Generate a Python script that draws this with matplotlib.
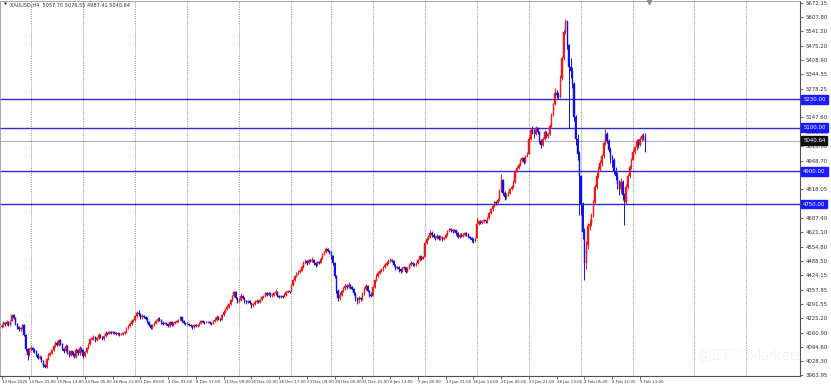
import matplotlib
matplotlib.use("Agg")
import matplotlib.pyplot as plt
from matplotlib import font_manager
import numpy as np
from matplotlib.transforms import blended_transform_factory

# ---------------- data ----------------
header_text = "XAUUSD,H4  5057.70 5076.55 4987.41 5040.64"
first_open = 4185.0

closes = [
    4192, 4205, 4198, 4210, 4195,                 # 12 Nov
    4215, 4240, 4228, 4200, 4185, 4175,           # 13 Nov
    4180, 4195, 4150, 4085, 4060, 4085,           # 14 Nov
    4090, 4080, 4075, 4060, 4045, 4050,           # 17 Nov
    4030, 4010, 4005, 4040, 4060, 4065,           # 18 Nov
    4080, 4100, 4115, 4105, 4125, 4110,           # 19 Nov
    4085, 4075, 4100, 4070, 4060, 4075,           # 20 Nov
    4060, 4050, 4080, 4065, 4090, 4080,           # 21 Nov
    4055, 4070, 4090, 4110, 4130, 4135,           # 24 Nov
    4140, 4125, 4135, 4150, 4140, 4130,           # 25 Nov
    4145, 4160, 4155, 4165, 4160, 4165,           # 26 Nov
    4160, 4155, 4158, 4150, 4155, 4157,           # 27 Nov
    4165, 4180, 4190, 4200, 4215, 4220,           # 28 Nov
    4235, 4250, 4245, 4230, 4235, 4232,           # 1 Dec
    4225, 4210, 4195, 4180, 4195, 4205,           # 2 Dec
    4215, 4225, 4220, 4205, 4200, 4205,           # 3 Dec
    4200, 4190, 4210, 4195, 4205, 4208,           # 4 Dec
    4215, 4220, 4230, 4215, 4205, 4198,           # 5 Dec
    4200, 4195, 4190, 4185, 4195, 4190,           # 8 Dec
    4195, 4205, 4215, 4210, 4208, 4208,           # 9 Dec
    4210, 4205, 4200, 4215, 4220, 4230,           # 10 Dec
    4225, 4220, 4240, 4255, 4270, 4280,           # 11 Dec
    4290, 4310, 4330, 4345, 4320, 4300,           # 12 Dec
    4310, 4330, 4320, 4305, 4300, 4305,           # 15 Dec
    4295, 4285, 4290, 4300, 4305, 4300,           # 16 Dec
    4310, 4325, 4330, 4340, 4335, 4340,           # 17 Dec
    4330, 4335, 4340, 4345, 4330, 4325,           # 18 Dec
    4330, 4325, 4335, 4345, 4350, 4345,           # 19 Dec
    4380, 4400, 4420, 4430, 4440, 4445,           # 22 Dec
    4460, 4480, 4490, 4480, 4495, 4490,           # 23 Dec
    4495, 4480, 4470, 4485, 4480,                 # 24 Dec
    4500, 4520, 4530, 4545, 4535, 4530,           # 26 Dec
    4510, 4480, 4420, 4350, 4320, 4335,           # 29 Dec
    4350, 4365, 4375, 4370, 4380, 4370,           # 30 Dec
    4360, 4340, 4320, 4310, 4320, 4315,           # 31 Dec
    4340, 4360, 4375, 4350, 4335, 4330,           # 2 Jan
    4370, 4400, 4420, 4435, 4445, 4450,           # 5 Jan
    4460, 4470, 4480, 4490, 4495, 4490,           # 6 Jan
    4470, 4455, 4460, 4450, 4445, 4455,           # 7 Jan
    4460, 4440, 4455, 4470, 4480, 4475,           # 8 Jan
    4470, 4480, 4495, 4510, 4500, 4505,           # 9 Jan
    4570, 4590, 4600, 4615, 4610, 4600,           # 12 Jan
    4595, 4605, 4590, 4600, 4590, 4595,           # 13 Jan
    4610, 4625, 4635, 4630, 4625, 4630,           # 14 Jan
    4615, 4600, 4610, 4605, 4610, 4615,           # 15 Jan
    4610, 4600, 4595, 4585, 4580, 4595,           # 16 Jan
    4660, 4670, 4665, 4670, 4675, 4670,           # 19 Jan
    4685, 4710, 4725, 4740, 4760, 4755,           # 20 Jan
    4770, 4810, 4860, 4800, 4780, 4790,           # 21 Jan
    4800, 4820, 4830, 4850, 4900, 4915,           # 22 Jan
    4930, 4950, 4960, 4945, 4970, 4980,           # 23 Jan
    5050, 5090, 5080, 5070, 5100, 5080,           # 26 Jan
    5040, 5020, 5050, 5080, 5060, 5070,           # 27 Jan
    5110, 5160, 5210, 5260, 5250, 5240,           # 28 Jan
    5330, 5420, 5540, 5590, 5480, 5380,           # 29 Jan
    5360, 5300, 5150, 5050, 4980, 4880,           # 30 Jan
    4750, 4620, 4480, 4560, 4650, 4660,           # 2 Feb
    4700, 4760, 4830, 4880, 4910, 4940,           # 3 Feb
    4970, 5030, 5070, 5040, 5000, 4960,           # 4 Feb
    4950, 4900, 4880, 4840, 4820, 4850,           # 5 Feb
    4790, 4760, 4830, 4880, 4920, 4950,           # 6 Feb
    4990, 5010, 5040, 5020, 5050, 5060,           # 9 Feb
    5057.70, 5040.64,                             # 10 Feb
]

highs = [
    4198, 4212, 4208, 4218, 4212,
    4220, 4248, 4245, 4232, 4205, 4190,
    4188, 4202, 4198, 4155, 4092, 4090,
    4098, 4095, 4088, 4080, 4068, 4058,
    4052, 4035, 4018, 4045, 4068, 4072,
    4085, 4105, 4120, 4122, 4132, 4130,
    4115, 4092, 4110, 4105, 4080, 4082,
    4078, 4068, 4088, 4085, 4098, 4095,
    4085, 4075, 4095, 4115, 4135, 4142,
    4148, 4145, 4140, 4160, 4155, 4145,
    4150, 4166, 4164, 4170, 4170, 4170,
    4168, 4165, 4162, 4160, 4160, 4162,
    4170, 4186, 4195, 4208, 4222, 4225,
    4242, 4258, 4264, 4250, 4245, 4240,
    4235, 4230, 4215, 4200, 4200, 4210,
    4220, 4232, 4230, 4225, 4212, 4210,
    4210, 4205, 4215, 4215, 4210, 4212,
    4218, 4225, 4238, 4232, 4220, 4210,
    4208, 4204, 4200, 4195, 4200, 4198,
    4198, 4210, 4220, 4218, 4214, 4212,
    4214, 4212, 4208, 4220, 4230, 4240,
    4235, 4228, 4245, 4262, 4275, 4285,
    4295, 4315, 4335, 4352, 4350, 4325,
    4318, 4340, 4335, 4325, 4310, 4310,
    4308, 4298, 4295, 4310, 4315, 4308,
    4315, 4330, 4335, 4345, 4345, 4345,
    4345, 4340, 4345, 4360, 4350, 4335,
    4335, 4335, 4340, 4350, 4358, 4352,
    4385, 4408, 4425, 4438, 4448, 4450,
    4470, 4490, 4498, 4495, 4500, 4498,
    4505, 4498, 4485, 4490, 4490,
    4505, 4525, 4535, 4552, 4550, 4540,
    4535, 4515, 4485, 4425, 4360, 4345,
    4355, 4370, 4382, 4385, 4392, 4385,
    4375, 4365, 4345, 4325, 4330, 4325,
    4345, 4368, 4385, 4380, 4355, 4345,
    4375, 4405, 4428, 4442, 4450, 4455,
    4465, 4478, 4488, 4498, 4502, 4498,
    4495, 4475, 4468, 4465, 4458, 4460,
    4465, 4462, 4460, 4475, 4488, 4485,
    4480, 4485, 4500, 4515, 4512, 4510,
    4580, 4598, 4608, 4630, 4625, 4615,
    4605, 4612, 4608, 4610, 4605, 4600,
    4615, 4630, 4642, 4640, 4635, 4635,
    4632, 4620, 4615, 4615, 4618, 4620,
    4620, 4615, 4605, 4600, 4592, 4600,
    4690, 4675, 4675, 4678, 4680, 4678,
    4690, 4715, 4730, 4748, 4765, 4765,
    4778, 4820, 4888, 4865, 4810, 4800,
    4808, 4825, 4838, 4858, 4905, 4925,
    4938, 4958, 4965, 4965, 4975, 4990,
    5060, 5100, 5110, 5095, 5110, 5105,
    5085, 5050, 5058, 5088, 5085, 5078,
    5115, 5168, 5215, 5280, 5275, 5262,
    5340, 5430, 5550, 5598, 5590, 5485,
    5420, 5380, 5310, 5160, 5070, 4995,
    4820, 4760, 4640, 4580, 4665, 4680,
    4710, 4770, 4840, 4895, 4925, 4950,
    4980, 5040, 5092, 5080, 5050, 5010,
    4975, 4960, 4920, 4895, 4860, 4870,
    4860, 4800, 4840, 4890, 4930, 4960,
    4998, 5018, 5050, 5048, 5058, 5070,
    5075, 5076.55,
]

lows = [
    4180, 4188, 4192, 4195, 4190,
    4192, 4212, 4222, 4195, 4178, 4168,
    4168, 4175, 4145, 4075, 4035, 4055,
    4078, 4072, 4068, 4052, 4040, 4040,
    4025, 4002, 3998, 4000, 4035, 4055,
    4062, 4075, 4095, 4098, 4100, 4105,
    4080, 4068, 4072, 4062, 4050, 4055,
    4052, 4042, 4045, 4058, 4060, 4072,
    4042, 4050, 4065, 4085, 4105, 4125,
    4128, 4118, 4120, 4130, 4135, 4125,
    4128, 4140, 4150, 4152, 4155, 4155,
    4155, 4150, 4150, 4145, 4148, 4150,
    4152, 4160, 4175, 4185, 4195, 4210,
    4215, 4230, 4238, 4225, 4225, 4228,
    4220, 4205, 4190, 4175, 4176, 4190,
    4200, 4210, 4212, 4200, 4195, 4198,
    4195, 4185, 4188, 4190, 4192, 4200,
    4205, 4210, 4218, 4210, 4198, 4195,
    4195, 4190, 4185, 4178, 4182, 4185,
    4186, 4192, 4200, 4205, 4202, 4204,
    4204, 4200, 4195, 4198, 4210, 4215,
    4220, 4212, 4218, 4238, 4250, 4265,
    4275, 4285, 4305, 4325, 4315, 4295,
    4300, 4305, 4315, 4298, 4292, 4298,
    4290, 4275, 4280, 4285, 4295, 4296,
    4298, 4308, 4320, 4325, 4330, 4332,
    4325, 4325, 4330, 4335, 4325, 4318,
    4320, 4318, 4322, 4330, 4340, 4340,
    4345, 4375, 4395, 4415, 4425, 4435,
    4442, 4455, 4475, 4470, 4475, 4485,
    4485, 4472, 4460, 4465, 4475,
    4478, 4498, 4515, 4525, 4528, 4522,
    4500, 4470, 4410, 4340, 4305, 4312,
    4330, 4345, 4358, 4360, 4365, 4362,
    4355, 4335, 4305, 4290, 4298, 4305,
    4312, 4335, 4355, 4345, 4325, 4322,
    4335, 4365, 4395, 4415, 4430, 4438,
    4445, 4455, 4465, 4475, 4485, 4482,
    4465, 4448, 4450, 4440, 4432, 4440,
    4450, 4432, 4438, 4450, 4465, 4468,
    4465, 4465, 4475, 4490, 4495, 4496,
    4510, 4565, 4585, 4595, 4600, 4595,
    4585, 4590, 4585, 4585, 4580, 4585,
    4592, 4605, 4620, 4622, 4615, 4620,
    4610, 4592, 4595, 4598, 4600, 4605,
    4605, 4595, 4590, 4578, 4570, 4575,
    4640, 4655, 4658, 4660, 4665, 4665,
    4665, 4682, 4705, 4720, 4735, 4745,
    4750, 4765, 4805, 4790, 4770, 4772,
    4785, 4795, 4815, 4825, 4845, 4895,
    4910, 4925, 4945, 4935, 4940, 4965,
    4985, 5045, 5070, 5055, 5065, 5070,
    5030, 5005, 5015, 5045, 5055, 5055,
    5065, 5105, 5155, 5205, 5235, 5230,
    5235, 5320, 5410, 5530, 5460, 5100,
    5330, 5280, 5130, 5020, 4950, 4700,
    4700, 4590, 4400, 4450, 4545, 4630,
    4650, 4690, 4750, 4820, 4870, 4900,
    4925, 4960, 5020, 5030, 4990, 4940,
    4920, 4890, 4860, 4820, 4790, 4800,
    4770, 4655, 4750, 4820, 4870, 4910,
    4955, 4980, 5000, 5005, 5015, 5040,
    5045, 4987.41,
]

time_labels = ["12 Nov 2025", "14 Nov 21:00", "19 Nov 13:00", "24 Nov 05:00",
               "26 Nov 21:00", "1 Dec 09:00", "4 Dec 01:00", "8 Dec 17:00",
               "11 Dec 09:00", "16 Dec 01:00", "18 Dec 17:00", "23 Dec 09:00",
               "29 Dec 05:00", "31 Dec 21:00", "6 Jan 13:00", "9 Jan 05:00",
               "13 Jan 21:00", "16 Jan 13:00", "21 Jan 05:00", "23 Jan 21:00",
               "28 Jan 13:00", "2 Feb 05:00", "4 Feb 21:00", "9 Feb 13:00"]
bars_per_label = 16
week_start_bars = [17, 47, 77, 107, 137, 167, 190, 214, 244, 274, 304, 334, 364, 399, 429]

price_tick_labels = ["5672.15", "5607.80", "5541.50", "5475.20", "5408.90", "5344.55",
                     "5278.25", "5211.95", "5147.60", "5081.30", "5015.00", "4948.70",
                     "4883.35", "4818.05", "4687.40", "4621.10", "4554.80", "4488.50",
                     "4424.15", "4357.85", "4291.55", "4225.20", "4160.90", "4094.60",
                     "4028.30", "3963.95"]

level_lines = [5230.00, 5100.00, 4900.00, 4750.00]
level_labels = ["5230.00", "5100.00", "4900.00", "4750.00"]
last_price = 5040.64
last_label = "5040.64"

# ---------------- style ----------------
BULL = "#f01818"
BEAR = "#1010e8"
LEVEL = "#2b2bd6"
W, H = 831, 384
bar_px, x0_px = 1.735, 1.5
plot_right_px, plot_top_px, plot_bottom_px = 800, 1, 376

# narrow font for the small axis labels if available
available = {f.name for f in font_manager.fontManager.ttflist}
if "Liberation Sans Narrow" in available:
    small_family, xsize = ["Liberation Sans Narrow", "DejaVu Sans"], 3.8
else:
    small_family, xsize = ["DejaVu Sans"], 2.9

fig = plt.figure(figsize=(W / 100, H / 100), dpi=100)
fig.patch.set_facecolor("white")
ax = fig.add_axes([0, (H - plot_bottom_px) / H, plot_right_px / W,
                   (plot_bottom_px - plot_top_px) / H])
ax.set_facecolor("white")

n = len(closes)
idx = np.arange(n)
c = np.array(closes, float)
o = np.concatenate([[first_open], c[:-1]])
hi = np.maximum(np.array(highs, float), np.maximum(o, c))
lo = np.minimum(np.array(lows, float), np.minimum(o, c))
up = c >= o
cols = np.where(up, BULL, BEAR)

ax.set_xlim(-x0_px / bar_px, (plot_right_px - x0_px) / bar_px)
ax.set_ylim(3961.5, 5681.0)

# weekly dotted grid
for wb in week_start_bars:
    ax.axvline(wb, color="#7a7a7a", lw=0.6, ls=(0, (1.2, 1.6)), zorder=0)

# level lines
ax.axhline(last_price, color="#b4b4b4", lw=0.8, zorder=1)
for lv in level_lines:
    ax.axhline(lv, color=LEVEL, lw=1.0, zorder=1)

# candles
ax.vlines(idx, lo, hi, colors=cols, lw=0.7, zorder=2)
body_h = np.maximum(np.abs(c - o), 1.5)
ax.bar(idx, body_h, bottom=np.minimum(o, c), width=0.7, color=cols,
       edgecolor=cols, linewidth=0.3, zorder=3)

# axes styling
for s in ["left", "top"]:
    ax.spines[s].set_color("#9a9a9a")
    ax.spines[s].set_linewidth(0.6)
for s in ["right", "bottom"]:
    ax.spines[s].set_color("#505050")
    ax.spines[s].set_linewidth(0.8)

ax.yaxis.tick_right()
ax.set_yticks([float(t) for t in price_tick_labels])
ax.set_yticklabels(price_tick_labels)
ax.tick_params(axis="y", direction="out", length=2.5, width=0.5, pad=1.5,
               labelsize=3.9, colors="#303030")

xt = [k * bars_per_label for k in range(len(time_labels))]
ax.set_xticks(xt)
ax.set_xticklabels(time_labels)
ax.tick_params(axis="x", direction="out", length=2.0, width=0.5, pad=0.6,
               labelsize=xsize, colors="#303030")
for lbl in ax.get_xticklabels():
    lbl.set_ha("left")
    lbl.set_family(small_family)

# right-axis price boxes
tr = blended_transform_factory(ax.transAxes, ax.transData)
for lv, lt in zip(level_lines, level_labels):
    ax.text(1.004, lv, lt, transform=tr, fontsize=3.9, color="white",
            va="center", ha="left", zorder=5, clip_on=False,
            bbox=dict(boxstyle="square,pad=0.35", fc="#1a1aff", ec="#1a1aff"))
ax.text(1.004, last_price, last_label, transform=tr, fontsize=3.9, color="white",
        va="center", ha="left", zorder=5, clip_on=False,
        bbox=dict(boxstyle="square,pad=0.35", fc="#101010", ec="#101010"))

# header
fig.text(4 / W, 1 - 5 / H, "\u25BC", fontsize=3, color="#404040", va="center", ha="left")
fig.text(10 / W, 1 - 5 / H, header_text, fontsize=3.6, color="#303030",
         va="center", ha="left")

# chart shift marker
trx = blended_transform_factory(ax.transData, ax.transAxes)
ax.plot([n + 1], [0.997], marker="v", ms=3, color="#909090", transform=trx,
        clip_on=False, zorder=6)

# watermark
fig.text(802 / W, (H - 355) / H, "@ETO Markets", fontsize=11.5, color="#c2c2c2",
         family=["Lato", "DejaVu Sans"], fontweight="light", ha="right", va="center",
         zorder=10)

fig.savefig("out.png", dpi=100, facecolor="white")
